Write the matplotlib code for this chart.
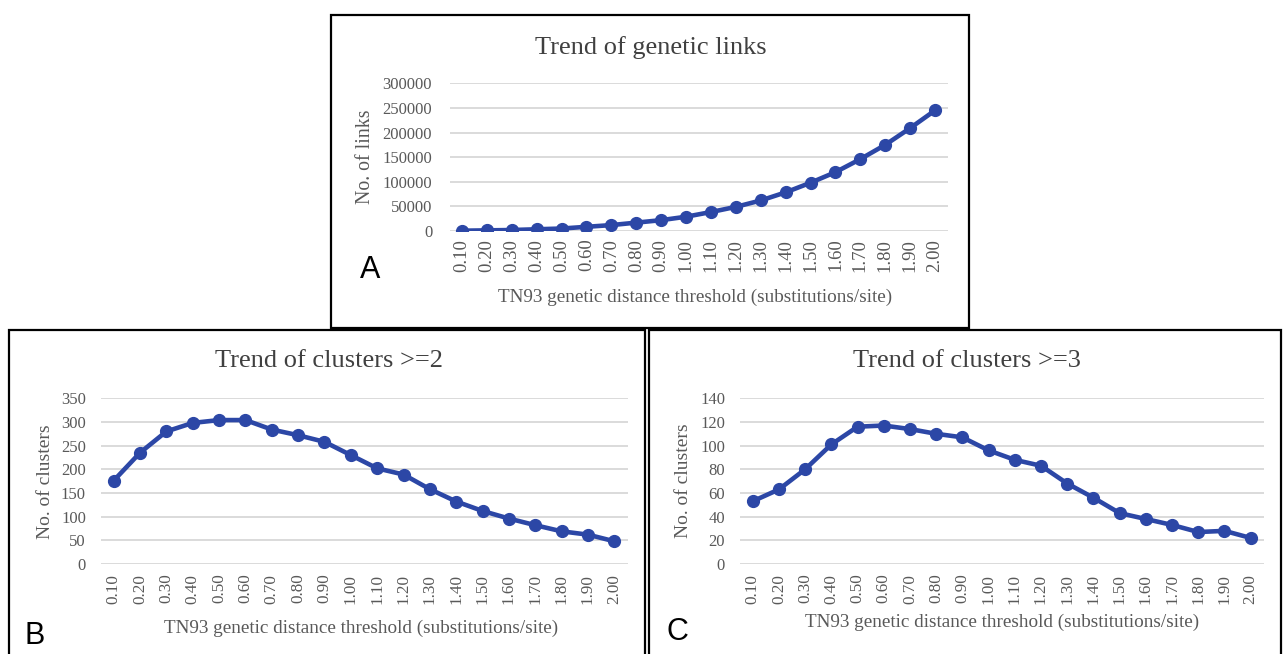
import matplotlib
matplotlib.use("Agg")
import matplotlib.pyplot as plt
from matplotlib.patches import Rectangle

# ---- data ----
THRESHOLDS = ["0.10", "0.20", "0.30", "0.40", "0.50", "0.60", "0.70", "0.80", "0.90", "1.00",
              "1.10", "1.20", "1.30", "1.40", "1.50", "1.60", "1.70", "1.80", "1.90", "2.00"]
LINKS = [600, 1300, 2000, 3500, 5000, 8500, 12000, 17000, 22000, 29000,
         38500, 49000, 62000, 78500, 98000, 119500, 146000, 175000, 209000, 245000]
CLUSTERS_GE2 = [176, 235, 280, 298, 304, 304, 284, 272, 258, 230,
                202, 189, 158, 132, 112, 96, 82, 69, 62, 48]
CLUSTERS_GE3 = [53, 63, 80, 101, 116, 117, 114, 110, 107, 96,
                88, 83, 68, 56, 43, 38, 33, 27, 28, 22]

W, H = 1283, 654
LINE = "#2c47a6"
GRID = "#d4d4d4"
TXT = "#595959"
TITLE = "#404040"
SERIF = ["Liberation Serif", "DejaVu Serif"]

plt.rcParams["font.family"] = SERIF

fig = plt.figure(figsize=(W / 100, H / 100), dpi=100)
fig.patch.set_facecolor("white")


def px_axes(left, right, top, bottom):
    return fig.add_axes([left / W, 1 - bottom / H, (right - left) / W, (bottom - top) / H])


def panel(box, values, ymax, ystep, title, title_xy, ylabel, ylabel_xy, xlabel_xy,
          letter, letter_xy, xtick_size=12.3, xtick_pad=7, ytick_pad=10.5, ylab_size=14):
    ax = px_axes(*box)
    x = range(len(values))
    ax.plot(x, values, color=LINE, lw=3.3, marker="o", ms=8.5, zorder=3,
            solid_capstyle="round", solid_joinstyle="round")
    ax.set_xlim(-0.5, len(values) - 0.5)
    ax.set_ylim(0, ymax)
    ax.set_yticks(range(0, ymax + 1, ystep))
    ax.set_xticks(list(x), THRESHOLDS, rotation=90)
    ax.tick_params(axis="both", length=0, colors=TXT)
    ax.tick_params(axis="x", pad=xtick_pad, labelsize=xtick_size)
    ax.tick_params(axis="y", pad=ytick_pad, labelsize=12)
    ax.yaxis.grid(True, color=GRID, lw=1.2, zorder=0)
    ax.set_axisbelow(True)
    for s in ax.spines.values():
        s.set_visible(False)
    ax.patch.set_alpha(0)

    fig.text(title_xy[0] / W, 1 - title_xy[1] / H, title, ha="center", va="center",
             fontsize=19, color=TITLE)
    fig.text(ylabel_xy[0] / W, 1 - ylabel_xy[1] / H, ylabel, ha="center", va="center",
             rotation=90, fontsize=ylab_size, color=TXT)
    fig.text(xlabel_xy[0] / W, 1 - xlabel_xy[1] / H,
             "TN93 genetic distance threshold (substitutions/site)",
             ha="center", va="center", fontsize=13.8, color=TXT)
    fig.text(letter_xy[0] / W, 1 - letter_xy[1] / H, letter, ha="center", va="center",
             fontsize=22, color="black", family=["Liberation Sans", "DejaVu Sans"])
    return ax


panel((449.5, 947.5, 83.3, 231), LINKS, 300000, 50000, "Trend of genetic links", (651, 48),
      "No. of links", (366, 157), (695, 297), "A", (370, 270),
      xtick_size=13.5, xtick_pad=5.5, ytick_pad=12.5, ylab_size=14.3)
panel((100.5, 627.5, 398.3, 564), CLUSTERS_GE2, 350, 50, "Trend of clusters >=2", (329, 361),
      "No. of clusters", (45, 482), (361, 628), "B", (35, 636))
panel((739.6, 1263.8, 398.3, 564), CLUSTERS_GE3, 140, 20, "Trend of clusters >=3", (967, 361),
      "No. of clusters", (683, 481), (1002, 622), "C", (677, 632))

# panel frames
for (l, t, r, b) in [(331, 15, 969, 328), (9, 330, 645, 660), (649, 330, 1281, 660)]:
    fig.add_artist(Rectangle((l / W, 1 - b / H), (r - l) / W, (b - t) / H,
                             transform=fig.transFigure, fill=False, ec="black", lw=1.6))

fig.savefig("out.png", dpi=100, facecolor="white")
